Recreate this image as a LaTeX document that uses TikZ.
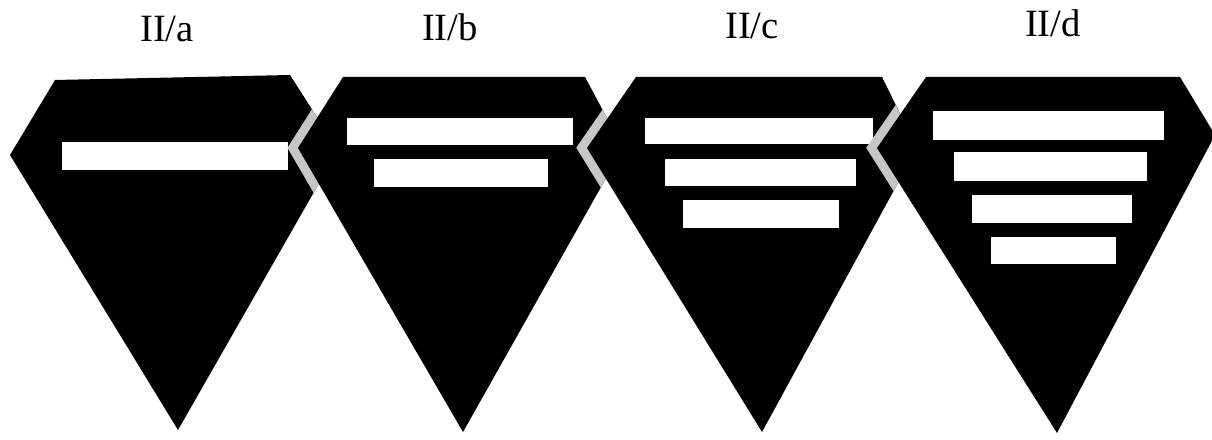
\documentclass[tikz,border=0pt]{standalone}
\usepackage{fontspec}
\setmainfont{Liberation Serif}
\begin{document}
\begin{tikzpicture}[x=0.02cm,y=-0.02cm,
  gem/.style={fill=black},
  band/.style={draw=black!22,line width=0.36cm,line join=miter},
  bar/.style={fill=white},
  lbl/.style={anchor=base,inner sep=0pt,font=\fontsize{22}{26}\selectfont}]
\useasboundingbox (0,0) rectangle (1212,439);
% corners of the four gems
\coordinate (a1) at (10,155); \coordinate (a2) at (55,80); \coordinate (a3) at (290,75); \coordinate (a4) at (338,150); \coordinate (a5) at (178,430);
\coordinate (b1) at (298,148); \coordinate (b2) at (343,77); \coordinate (b3) at (585,77); \coordinate (b4) at (623,148); \coordinate (b5) at (463,432);
\coordinate (c1) at (587,148); \coordinate (c2) at (636,77); \coordinate (c3) at (882,77); \coordinate (c4) at (917,148); \coordinate (c5) at (762,432);
\coordinate (d1) at (877,148); \coordinate (d2) at (926,77); \coordinate (d3) at (1180,77); \coordinate (d4) at (1215,135); \coordinate (d5) at (1057,433);
% II/a
\fill[gem] (a1) -- (a2) -- (a3) -- (a4) -- (a5) -- cycle;
\fill[bar] (62,142) rectangle (288,170);
% II/b
\begin{scope}
\clip (a1) -- (a2) -- (a3) -- (a4) -- (a5) -- cycle;
\draw[band] (b1) -- (b2) -- (b3) -- (b4) -- (b5) -- cycle;
\end{scope}
\fill[gem] (b1) -- (b2) -- (b3) -- (b4) -- (b5) -- cycle;
\fill[bar] (347,118) rectangle (573,145);
\fill[bar] (374,159) rectangle (548,187);
% II/c
\begin{scope}
\clip (b1) -- (b2) -- (b3) -- (b4) -- (b5) -- cycle;
\draw[band] (c1) -- (c2) -- (c3) -- (c4) -- (c5) -- cycle;
\end{scope}
\fill[gem] (c1) -- (c2) -- (c3) -- (c4) -- (c5) -- cycle;
\fill[bar] (645,118) rectangle (873,144);
\fill[bar] (665,159) rectangle (856,186);
\fill[bar] (683,200) rectangle (839,228);
% II/d
\begin{scope}
\clip (c1) -- (c2) -- (c3) -- (c4) -- (c5) -- cycle;
\draw[band] (d1) -- (d2) -- (d3) -- (d4) -- (d5) -- cycle;
\end{scope}
\fill[gem] (d1) -- (d2) -- (d3) -- (d4) -- (d5) -- cycle;
\fill[bar] (933,111) rectangle (1164,140);
\fill[bar] (954,152) rectangle (1147,181);
\fill[bar] (972,195) rectangle (1132,223);
\fill[bar] (991,237) rectangle (1116,264);
% labels
\node[lbl] (la) at (167,42) {II/a};
\node[lbl] (lb) at (450,41) {II/b};
\node[lbl] (lc) at (752,39) {II/c};
\node[lbl] (ld) at (1053,37) {II/d};
\end{tikzpicture}
\end{document}
